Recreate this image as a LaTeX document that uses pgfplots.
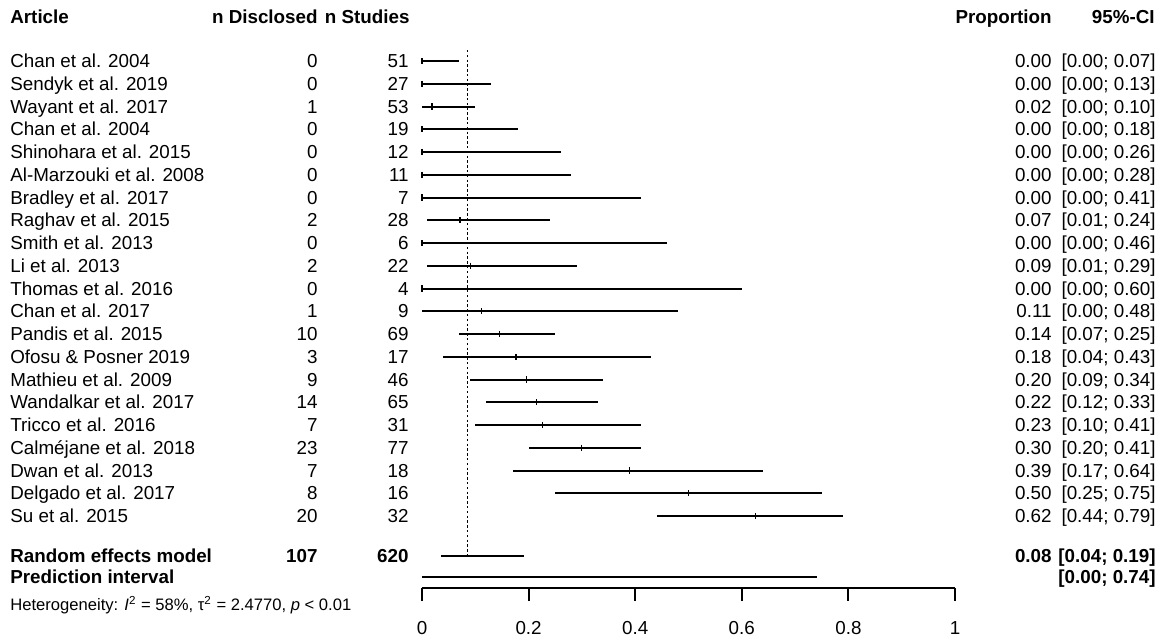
\documentclass[border=0pt]{standalone}
\usepackage{pgfplots}
\pgfplotsset{compat=1.18}
\usepackage{pgfplotstable}
\usepackage{fontspec}
\setmainfont{Liberation Sans}

% y = 639 - pixel row of the study
\pgfplotstableread{
y       est     lo    hi
578     0.000   0.00  0.07
555.25  0.000   0.00  0.13
532.5   0.0189  0.00  0.10
509.75  0.000   0.00  0.18
487     0.000   0.00  0.26
464.25  0.000   0.00  0.28
441.5   0.000   0.00  0.41
418.75  0.0714  0.01  0.24
396     0.000   0.00  0.46
373.25  0.0909  0.01  0.29
350.5   0.000   0.00  0.60
327.75  0.1111  0.00  0.48
305     0.1449  0.07  0.25
282.25  0.1765  0.04  0.43
259.5   0.1957  0.09  0.34
236.75  0.2154  0.12  0.33
214     0.2258  0.10  0.41
191.25  0.2987  0.20  0.41
168.5   0.3889  0.17  0.64
145.75  0.5000  0.25  0.75
123     0.6250  0.44  0.79
}\studies

\newcommand{\studyrow}[6]{%
  \node[L] at (axis cs:-0.7730,#1) {#2};
  \node[R] at (axis cs:-0.1951,#1) {#3};
  \node[R] at (axis cs:-0.0244,#1) {#4};
  \node[R] at (axis cs:1.1820,#1) {#5};
  \node[R] at (axis cs:1.3771,#1) {#6};
}

\begin{document}
\begin{tikzpicture}[font=\fontsize{9.4}{11}\selectfont,
  L/.style={anchor=base west, inner sep=0pt, yshift=-3.35pt},
  R/.style={anchor=base east, inner sep=0pt, yshift=-3.35pt}]
\begin{axis}[
  scale only axis, width=266.5pt, height=294pt,
  xmin=0, xmax=1, ymin=51, ymax=639,
  clip=false,
  axis y line=none, axis x line*=bottom,
  x axis line style={line width=1pt, black},
  xtick={0,0.2,0.4,0.6,0.8,1},
  xticklabels={0,0.2,0.4,0.6,0.8,1},
  tick align=outside, major tick length=6.5pt,
  xtick style={line width=1pt, black},
  xticklabel style={font=\fontsize{9.4}{11}\selectfont, inner sep=0pt, yshift=-10pt},
  /pgf/number format/assume math mode=true,
]
% invisible frame giving the picture its proportions
\path (axis cs:-0.7917,0) rectangle (axis cs:1.3977,639);

% reference (summary) dotted line
\addplot[black, line width=0.75pt, dash pattern=on 1.2pt off 1.2pt] coordinates {(0.085,589) (0.085,83)};

% study estimates and CIs
\addplot[black, only marks, mark=|, mark size=1.6pt, mark options={line width=0.6pt},
  error bars/.cd, x dir=both, x explicit, error mark=none,
  error bar style={line width=1pt, black}]
  table[x=est, y=y,
    x error plus expr=\thisrow{hi}-\thisrow{est},
    x error minus expr=\thisrow{est}-\thisrow{lo}] {\studies};

% random effects summary
\addplot[black, line width=1pt] coordinates {(0.036,83) (0.192,83)};
% prediction interval
\addplot[black, line width=1pt] coordinates {(0.0,62) (0.741,62)};

% headers
\node[L] at (axis cs:-0.7730,622) {\bfseries Article};
\node[R] at (axis cs:-0.1951,622) {\bfseries n Disclosed};
\node[R] at (axis cs:-0.0225,622) {\bfseries n Studies};
\node[R] at (axis cs:1.1820,622) {\bfseries Proportion};
\node[R] at (axis cs:1.3752,622) {\bfseries 95\%-CI};

\studyrow{578}{Chan et al. 2004}{0}{51}{0.00}{[0.00; 0.07]}
\studyrow{555.25}{Sendyk et al. 2019}{0}{27}{0.00}{[0.00; 0.13]}
\studyrow{532.5}{Wayant et al. 2017}{1}{53}{0.02}{[0.00; 0.10]}
\studyrow{509.75}{Chan et al. 2004}{0}{19}{0.00}{[0.00; 0.18]}
\studyrow{487}{Shinohara et al. 2015}{0}{12}{0.00}{[0.00; 0.26]}
\studyrow{464.25}{Al-Marzouki et al. 2008}{0}{11}{0.00}{[0.00; 0.28]}
\studyrow{441.5}{Bradley et al. 2017}{0}{7}{0.00}{[0.00; 0.41]}
\studyrow{418.75}{Raghav et al. 2015}{2}{28}{0.07}{[0.01; 0.24]}
\studyrow{396}{Smith et al. 2013}{0}{6}{0.00}{[0.00; 0.46]}
\studyrow{373.25}{Li et al. 2013}{2}{22}{0.09}{[0.01; 0.29]}
\studyrow{350.5}{Thomas et al. 2016}{0}{4}{0.00}{[0.00; 0.60]}
\studyrow{327.75}{Chan et al. 2017}{1}{9}{0.11}{[0.00; 0.48]}
\studyrow{305}{Pandis et al. 2015}{10}{69}{0.14}{[0.07; 0.25]}
\studyrow{282.25}{Ofosu \& Posner 2019}{3}{17}{0.18}{[0.04; 0.43]}
\studyrow{259.5}{Mathieu et al. 2009}{9}{46}{0.20}{[0.09; 0.34]}
\studyrow{236.75}{Wandalkar et al. 2017}{14}{65}{0.22}{[0.12; 0.33]}
\studyrow{214}{Tricco et al. 2016}{7}{31}{0.23}{[0.10; 0.41]}
\studyrow{191.25}{Calméjane et al. 2018}{23}{77}{0.30}{[0.20; 0.41]}
\studyrow{168.5}{Dwan et al. 2013}{7}{18}{0.39}{[0.17; 0.64]}
\studyrow{145.75}{Delgado et al. 2017}{8}{16}{0.50}{[0.25; 0.75]}
\studyrow{123}{Su et al. 2015}{20}{32}{0.62}{[0.44; 0.79]}

\studyrow{83}{\bfseries Random effects model}{\bfseries 107}{\bfseries 620}{\bfseries 0.08}{\bfseries [0.04; 0.19]}
\node[L] at (axis cs:-0.7730,62) {\bfseries Prediction interval};
\node[R] at (axis cs:1.3771,62) {\bfseries [0.00; 0.74]};
\node[L, font=\fontsize{8.3}{10}\selectfont, yshift=0.3pt] at (axis cs:-0.7730,35)
  {Heterogeneity: \textit{I}\textsuperscript{2} = 58\%, τ\textsuperscript{2} = 2.4770, \textit{p} < 0.01};
\end{axis}
\end{tikzpicture}
\end{document}
